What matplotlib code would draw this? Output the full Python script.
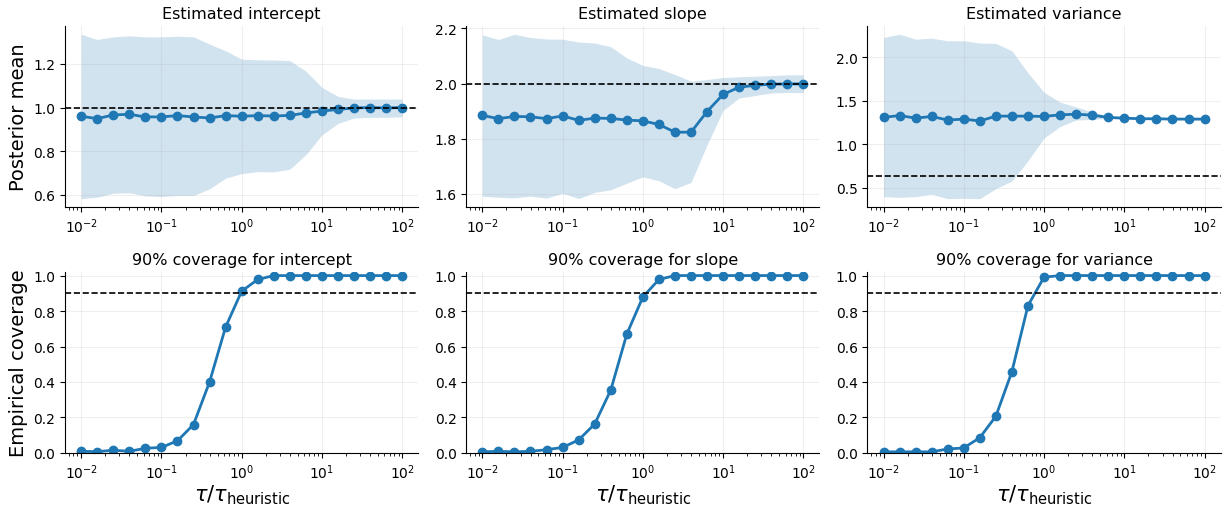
import numpy as np
import matplotlib.pyplot as plt

# tau / tau_heuristic grid (5 points per decade)
tau_ratio = np.logspace(-2, 2, 21)

# posterior mean + band, intercept
icpt_mean = [0.960, 0.949, 0.966, 0.969, 0.957, 0.957, 0.963, 0.957, 0.952, 0.963, 0.960,
             0.963, 0.961, 0.964, 0.975, 0.984, 0.991, 0.998, 1.000, 0.998, 1.000]
icpt_hi = [1.336, 1.312, 1.324, 1.329, 1.324, 1.324, 1.327, 1.324, 1.291, 1.260, 1.222,
           1.219, 1.218, 1.215, 1.167, 1.092, 1.051, 1.039, 1.039, 1.039, 1.039]
icpt_lo = [0.582, 0.589, 0.607, 0.609, 0.595, 0.592, 0.597, 0.597, 0.627, 0.676, 0.697,
           0.706, 0.705, 0.717, 0.784, 0.874, 0.927, 0.952, 0.955, 0.955, 0.957]

# slope
slope_mean = [1.885, 1.873, 1.881, 1.880, 1.873, 1.883, 1.867, 1.875, 1.874, 1.868, 1.865,
              1.852, 1.824, 1.824, 1.899, 1.961, 1.987, 1.994, 1.998, 1.999, 1.999]
slope_hi = [2.177, 2.160, 2.179, 2.167, 2.162, 2.161, 2.151, 2.147, 2.134, 2.093, 2.066,
            2.055, 2.033, 2.009, 2.015, 2.022, 2.025, 2.027, 2.029, 2.032, 2.032]
slope_lo = [1.592, 1.588, 1.586, 1.592, 1.585, 1.603, 1.583, 1.606, 1.615, 1.639, 1.662,
            1.648, 1.619, 1.642, 1.778, 1.903, 1.948, 1.957, 1.966, 1.968, 1.967]

# variance
var_mean = [1.309, 1.331, 1.301, 1.320, 1.279, 1.290, 1.268, 1.324, 1.324, 1.324, 1.320,
            1.339, 1.346, 1.335, 1.309, 1.301, 1.294, 1.294, 1.290, 1.290, 1.290]
var_hi = [2.228, 2.265, 2.209, 2.220, 2.190, 2.190, 2.164, 2.160, 2.074, 1.823, 1.598,
          1.485, 1.429, 1.372, 1.327, 1.315, 1.306, 1.304, 1.300, 1.299, 1.299]
var_lo = [0.398, 0.390, 0.398, 0.424, 0.375, 0.379, 0.375, 0.491, 0.578, 0.810, 1.073,
          1.204, 1.279, 1.286, 1.298, 1.289, 1.283, 1.284, 1.281, 1.281, 1.281]

true_vals = [1.0, 2.0, 0.64]

# empirical 90% coverage
cov_icpt = [0.009, 0.007, 0.015, 0.009, 0.026, 0.031, 0.068, 0.160, 0.400, 0.710, 0.912,
            0.978, 1.0, 1.0, 1.0, 1.0, 1.0, 1.0, 1.0, 1.0, 1.0]
cov_slope = [0.006, 0.009, 0.006, 0.009, 0.018, 0.031, 0.073, 0.163, 0.354, 0.670, 0.879,
             0.978, 1.0, 1.0, 1.0, 1.0, 1.0, 1.0, 1.0, 1.0, 1.0]
cov_var = [0.006, 0.006, 0.006, 0.006, 0.022, 0.028, 0.086, 0.207, 0.459, 0.831, 0.991,
           1.0, 1.0, 1.0, 1.0, 1.0, 1.0, 1.0, 1.0, 1.0, 1.0]

names = ["intercept", "slope", "variance"]
means = [icpt_mean, slope_mean, var_mean]
his = [icpt_hi, slope_hi, var_hi]
los = [icpt_lo, slope_lo, var_lo]
covs = [cov_icpt, cov_slope, cov_var]

fig, axes = plt.subplots(2, 3, figsize=(12.28, 5.1), dpi=100)

for j in range(3):
    ax = axes[0, j]
    ax.fill_between(tau_ratio, los[j], his[j], color="C0", alpha=0.2, linewidth=0)
    ax.plot(tau_ratio, means[j], "o-", color="C0", lw=2, ms=6)
    ax.axhline(true_vals[j], color="black", ls="--", lw=1.2)
    ax.set_xscale("log")
    ax.set_title("Estimated " + names[j], fontsize=11.5)

    ax = axes[1, j]
    ax.plot(tau_ratio, covs[j], "o-", color="C0", lw=2, ms=6)
    ax.axhline(0.9, color="black", ls="--", lw=1.2)
    ax.set_xscale("log")
    ax.set_ylim(0, 1.02)
    ax.set_title("90% coverage for " + names[j], fontsize=11.5)
    ax.set_xlabel(r"$\tau/\tau_{\mathrm{heuristic}}$", fontsize=15, labelpad=1)

for ax in axes.flat:
    ax.grid(alpha=0.2)
    ax.spines["top"].set_visible(False)
    ax.spines["right"].set_visible(False)
    ax.tick_params(labelsize=10)

axes[0, 0].set_ylabel("Posterior mean", fontsize=14)
axes[1, 0].set_ylabel("Empirical coverage", fontsize=14)

plt.subplots_adjust(left=0.053, right=0.994, top=0.947, bottom=0.11,
                    wspace=0.136, hspace=0.36)
plt.savefig("out.png")
